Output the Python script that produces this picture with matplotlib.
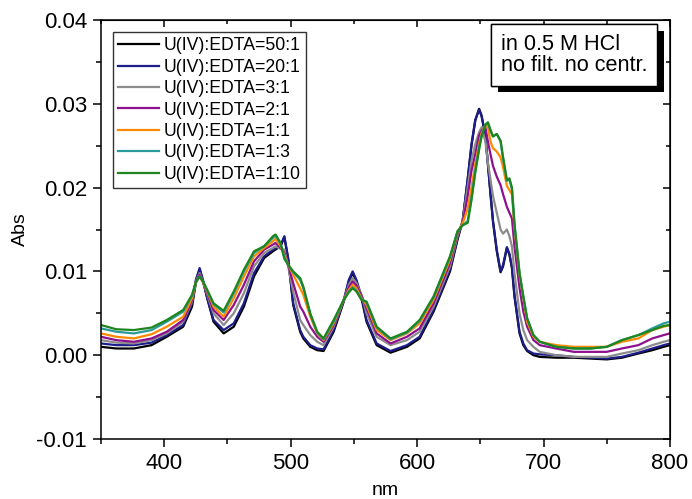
import matplotlib
matplotlib.use("Agg")
import matplotlib.pyplot as plt
import matplotlib.patheffects as pe
from matplotlib.ticker import MultipleLocator, FormatStrFormatter

plt.rcParams["font.family"] = ["Liberation Sans", "DejaVu Sans"]
plt.rcParams["axes.unicode_minus"] = False

# wavelength grid (nm)
wl = [350, 362, 376, 390, 402, 415, 422, 425, 428, 431, 434, 439,
      447, 455, 463, 471, 479, 486, 488, 492, 495, 498,
      502, 507.5, 510, 515.5, 521, 526, 534, 542, 546, 549, 552, 556,
      560, 568, 579, 592, 602, 613, 626, 632, 636, 640,
      643, 646, 649, 651, 654, 656, 658, 660, 663, 666,
      668, 671, 673, 675, 677, 681, 684, 687, 692, 697,
      710, 724, 737, 750, 762, 775, 786, 795, 800]

abs_50_1 = [0.0010, 0.0008, 0.0008, 0.0012, 0.0022, 0.0034, 0.0058, 0.0086, 0.0102, 0.0086, 0.0068, 0.0040,
            0.0026, 0.0034, 0.0058, 0.0094, 0.0116, 0.0124, 0.0126, 0.0130, 0.0141, 0.0115,
            0.0060, 0.0028, 0.0020, 0.0010, 0.0006, 0.0005, 0.0028, 0.0064, 0.0088, 0.0098, 0.0088, 0.0068,
            0.0040, 0.0012, 0.0003, 0.0010, 0.0020, 0.0052, 0.0100, 0.0138, 0.0160, 0.0210,
            0.0250, 0.0280, 0.0294, 0.0286, 0.0262, 0.0228, 0.0193, 0.0160, 0.0124, 0.0099,
            0.0106, 0.0128, 0.0120, 0.0104, 0.0070, 0.0026, 0.0012, 0.0005, 0.0000, -0.0002,
            -0.0003, -0.0003, -0.0004, -0.0005, -0.0003, 0.0002, 0.0006, 0.0010, 0.0012]

abs_20_1 = [0.0014, 0.0012, 0.0012, 0.0015, 0.0024, 0.0036, 0.0062, 0.0090, 0.0104, 0.0088, 0.0068, 0.0042,
            0.0030, 0.0038, 0.0062, 0.0098, 0.0118, 0.0126, 0.0127, 0.0131, 0.0142, 0.0116,
            0.0062, 0.0030, 0.0022, 0.0012, 0.0008, 0.0007, 0.0030, 0.0066, 0.0090, 0.0100, 0.0090, 0.0070,
            0.0042, 0.0014, 0.0005, 0.0012, 0.0022, 0.0054, 0.0102, 0.0140, 0.0160, 0.0210,
            0.0252, 0.0281, 0.0293, 0.0285, 0.0262, 0.0228, 0.0193, 0.0160, 0.0126, 0.0100,
            0.0108, 0.0129, 0.0121, 0.0105, 0.0072, 0.0028, 0.0014, 0.0006, 0.0002, 0.0001,
            0.0000, -0.0002, -0.0003, -0.0004, -0.0002, 0.0003, 0.0008, 0.0012, 0.0014]

abs_3_1 = [0.0018, 0.0015, 0.0014, 0.0018, 0.0026, 0.0040, 0.0064, 0.0088, 0.0098, 0.0086, 0.0072, 0.0050,
           0.0036, 0.0050, 0.0074, 0.0106, 0.0122, 0.0128, 0.0130, 0.0127, 0.0126, 0.0106,
           0.0076, 0.0042, 0.0036, 0.0024, 0.0016, 0.0012, 0.0034, 0.0066, 0.0084, 0.0092, 0.0086, 0.0072,
           0.0050, 0.0022, 0.0012, 0.0018, 0.0028, 0.0058, 0.0106, 0.0142, 0.0160, 0.0200,
           0.0232, 0.0252, 0.0266, 0.0272, 0.0255, 0.0230, 0.0210, 0.0190, 0.0170, 0.0150,
           0.0145, 0.0150, 0.0142, 0.0130, 0.0098, 0.0050, 0.0030, 0.0018, 0.0010, 0.0004,
           0.0000, -0.0002, -0.0002, -0.0002, 0.0002, 0.0006, 0.0012, 0.0016, 0.0018]

abs_2_1 = [0.0022, 0.0018, 0.0016, 0.0020, 0.0028, 0.0042, 0.0066, 0.0088, 0.0096, 0.0086, 0.0074, 0.0054,
           0.0042, 0.0060, 0.0084, 0.0112, 0.0126, 0.0132, 0.0134, 0.0128, 0.0122, 0.0108,
           0.0086, 0.0058, 0.0052, 0.0034, 0.0022, 0.0016, 0.0036, 0.0066, 0.0081, 0.0088, 0.0083, 0.0071,
           0.0056, 0.0026, 0.0014, 0.0022, 0.0032, 0.0062, 0.0110, 0.0145, 0.0158, 0.0190,
           0.0220, 0.0240, 0.0262, 0.0268, 0.0272, 0.0255, 0.0240, 0.0226, 0.0213, 0.0203,
           0.0192, 0.0177, 0.0170, 0.0163, 0.0130, 0.0080, 0.0052, 0.0034, 0.0018, 0.0012,
           0.0008, 0.0004, 0.0004, 0.0004, 0.0008, 0.0012, 0.0020, 0.0024, 0.0026]

abs_1_1 = [0.0026, 0.0022, 0.0020, 0.0025, 0.0034, 0.0046, 0.0068, 0.0087, 0.0094, 0.0086, 0.0076, 0.0058,
           0.0046, 0.0068, 0.0094, 0.0118, 0.0128, 0.0136, 0.0139, 0.0130, 0.0120, 0.0108,
           0.0096, 0.0080, 0.0072, 0.0046, 0.0026, 0.0018, 0.0038, 0.0066, 0.0078, 0.0084, 0.0080, 0.0068,
           0.0060, 0.0030, 0.0018, 0.0026, 0.0038, 0.0066, 0.0114, 0.0147, 0.0157, 0.0175,
           0.0200, 0.0228, 0.0252, 0.0265, 0.0275, 0.0272, 0.0255, 0.0247, 0.0243, 0.0236,
           0.0224, 0.0202, 0.0197, 0.0192, 0.0152, 0.0096, 0.0068, 0.0040, 0.0022, 0.0016,
           0.0012, 0.0010, 0.0010, 0.0010, 0.0016, 0.0020, 0.0030, 0.0034, 0.0036]

abs_1_3 = [0.0032, 0.0028, 0.0026, 0.0030, 0.0040, 0.0052, 0.0071, 0.0087, 0.0094, 0.0087, 0.0077, 0.0061,
           0.0051, 0.0074, 0.0100, 0.0122, 0.0130, 0.0140, 0.0143, 0.0133, 0.0117, 0.0108,
           0.0099, 0.0090, 0.0080, 0.0049, 0.0027, 0.0019, 0.0040, 0.0066, 0.0076, 0.0081, 0.0077, 0.0067,
           0.0063, 0.0033, 0.0019, 0.0027, 0.0041, 0.0069, 0.0117, 0.0148, 0.0155, 0.0160,
           0.0188, 0.0220, 0.0248, 0.0262, 0.0275, 0.0277, 0.0268, 0.0261, 0.0264, 0.0255,
           0.0235, 0.0208, 0.0210, 0.0198, 0.0156, 0.0098, 0.0070, 0.0044, 0.0024, 0.0016,
           0.0010, 0.0008, 0.0008, 0.0010, 0.0018, 0.0024, 0.0032, 0.0038, 0.0040]

abs_1_10 = [0.0036, 0.0031, 0.0030, 0.0033, 0.0042, 0.0054, 0.0072, 0.0087, 0.0094, 0.0087, 0.0078, 0.0062,
            0.0053, 0.0076, 0.0102, 0.0124, 0.0130, 0.0142, 0.0144, 0.0134, 0.0115, 0.0108,
            0.0100, 0.0092, 0.0082, 0.0050, 0.0028, 0.0020, 0.0042, 0.0066, 0.0075, 0.0080, 0.0076, 0.0066,
            0.0064, 0.0034, 0.0020, 0.0028, 0.0042, 0.0070, 0.0118, 0.0148, 0.0155, 0.0158,
            0.0185, 0.0218, 0.0245, 0.0261, 0.0275, 0.0278, 0.0269, 0.0261, 0.0264, 0.0256,
            0.0236, 0.0209, 0.0211, 0.0200, 0.0157, 0.0098, 0.0070, 0.0044, 0.0024, 0.0016,
            0.0010, 0.0008, 0.0008, 0.0010, 0.0018, 0.0024, 0.0030, 0.0035, 0.0036]

labels = ["U(IV):EDTA=50:1", "U(IV):EDTA=20:1", "U(IV):EDTA=3:1", "U(IV):EDTA=2:1",
          "U(IV):EDTA=1:1", "U(IV):EDTA=1:3", "U(IV):EDTA=1:10"]
series = [abs_50_1, abs_20_1, abs_3_1, abs_2_1, abs_1_1, abs_1_3, abs_1_10]
colors = ["#000000", "#1c1c8a", "#8c8c8c", "#8e108e", "#ff8a00", "#2a9a9a", "#1e861e"]

fig = plt.figure(figsize=(6.92, 4.99), dpi=100)
ax = fig.add_axes([101/692, 60/499, 569/692, 419/499])

for y, c, lab in zip(series, colors, labels):
    ax.plot(wl, y, color=c, lw=1.6, label=lab)

ax.set_xlim(350, 800)
ax.set_ylim(-0.01, 0.04)
ax.xaxis.set_major_locator(MultipleLocator(100))
ax.xaxis.set_minor_locator(MultipleLocator(50))
ax.yaxis.set_major_locator(MultipleLocator(0.01))
ax.yaxis.set_minor_locator(MultipleLocator(0.005))
ax.yaxis.set_major_formatter(FormatStrFormatter("%.2f"))
ax.tick_params(which="major", direction="out", length=6, width=1.1, labelsize=16, pad=4)
ax.tick_params(which="minor", direction="out", length=3.5, width=1.1)
for s in ax.spines.values():
    s.set_linewidth(1.1)

# mirrored inward ticks on top and right
top = ax.secondary_xaxis("top")
top.xaxis.set_major_locator(MultipleLocator(100))
top.xaxis.set_minor_locator(MultipleLocator(50))
top.tick_params(which="major", direction="in", length=5, width=1.1, labeltop=False)
top.tick_params(which="minor", direction="in", length=3, width=1.1)
right = ax.secondary_yaxis("right")
right.yaxis.set_major_locator(MultipleLocator(0.01))
right.yaxis.set_minor_locator(MultipleLocator(0.005))
right.tick_params(which="major", direction="in", length=5, width=1.1, labelright=False)
right.tick_params(which="minor", direction="in", length=3, width=1.1)

ax.set_xlabel("nm", fontsize=14, labelpad=6)
ax.set_ylabel("Abs", fontsize=14, labelpad=5)

leg = ax.legend(loc="upper left", bbox_to_anchor=(0.021, 0.971), borderaxespad=0,
                fontsize=12.7, frameon=True, fancybox=False, edgecolor="black",
                handlelength=2.3, handletextpad=0.25, labelspacing=0.25,
                borderpad=0.3)
leg.get_frame().set_linewidth(1.0)

t = ax.text(0.703, 0.966, "in 0.5 M HCl\nno filt. no centr.", transform=ax.transAxes,
            fontsize=15.6, ha="left", va="top", linespacing=1.0,
            bbox=dict(boxstyle="square,pad=0.45", facecolor="white", edgecolor="black", lw=1.0))
t.get_bbox_patch().set_path_effects([
    pe.withSimplePatchShadow(offset=(4.5, -4.5), shadow_rgbFace="black", alpha=1.0),
    pe.Normal()])

fig.savefig("out.png", dpi=100)
